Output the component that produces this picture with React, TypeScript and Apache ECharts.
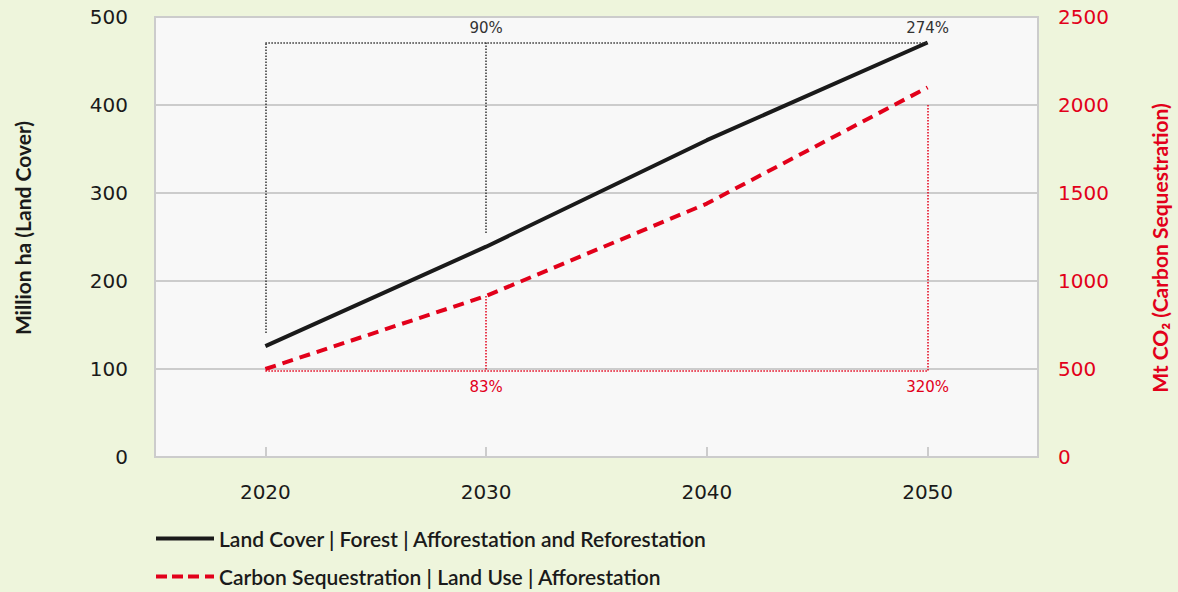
import React, { useEffect, useRef } from "react";
import * as echarts from "echarts";

const categories = ["2020", "2030", "2040", "2050"];
const landCover = [126, 239, 360, 471];
const carbonSeq = [500, 915, 1440, 2100];
const leftTicks = [0, 100, 200, 300, 400, 500];
const rightTicks = [0, 500, 1000, 1500, 2000, 2500];

const landName = "Land Cover | Forest | Afforestation and Reforestation";
const carbonName = "Carbon Sequestration | Land Use | Afforestation";

const BLACK = "#1a1a1a";
const RED = "#e2001a";
const TICK_FONT = "DejaVu Sans";
const TEXT_FONT = "Lato";

const SOLID_ICON = "path://M0,0H58V4H0Z";
const DASH_ICON = "path://M0,0H11V4H0Z M16,0H27V4H16Z M32,0H43V4H32Z M49,0H58V4H49Z";

const pct = (v: number, base: number) => Math.round((v / base - 1) * 100) + "%";

export default function App() {
  const ref = useRef<HTMLDivElement>(null);
  useEffect(() => {
    document.body.style.margin = "0";
    const chart = echarts.init(ref.current!, undefined, { renderer: "svg" });
    const landTop = landCover[landCover.length - 1];
    const carbonBase = carbonSeq[0] - 11;
    const legendText = { fontFamily: TEXT_FONT, fontSize: 21, fontWeight: 600, color: BLACK };
    const option: any = {
      animation: false,
      backgroundColor: "#eef5dc",
      grid: {
        left: 155,
        right: 140,
        top: 17,
        bottom: 135,
        show: true,
        backgroundColor: "#f8f8f8",
        borderColor: "#cccccc",
        borderWidth: 2,
      },
      legend: [
        {
          left: 151,
          top: 523,
          itemWidth: 58,
          itemHeight: 4,
          itemGap: 10,
          textStyle: legendText,
          data: [{ name: landName, icon: SOLID_ICON }],
        },
        {
          left: 151,
          top: 561,
          itemWidth: 58,
          itemHeight: 4,
          itemGap: 10,
          textStyle: legendText,
          data: [{ name: carbonName, icon: DASH_ICON }],
        },
      ],
      xAxis: {
        type: "category",
        data: categories,
        boundaryGap: true,
        axisLine: { show: true, lineStyle: { color: "#cccccc", width: 2 } },
        axisTick: { show: true, inside: true, alignWithLabel: true, length: 10, lineStyle: { color: "#cccccc", width: 2 } },
        axisLabel: { margin: 25, fontFamily: TICK_FONT, fontSize: 20, color: BLACK },
        splitLine: { show: false },
      },
      yAxis: [
        {
          type: "value",
          min: leftTicks[0],
          max: leftTicks[leftTicks.length - 1],
          interval: 100,
          name: "Million ha (Land Cover)",
          nameLocation: "middle",
          nameRotate: 90,
          nameGap: 122,
          nameTextStyle: { fontFamily: TEXT_FONT, fontSize: 21, fontWeight: 700, color: BLACK, padding: [0, 0, 0, 18] },
          axisLine: { show: false },
          axisTick: { show: false },
          axisLabel: { margin: 27, fontFamily: TICK_FONT, fontSize: 20, color: BLACK, formatter: (v: number) => String(v) },
          splitLine: { show: true, lineStyle: { color: "#cccccc", width: 2 } },
        },
        {
          type: "value",
          min: rightTicks[0],
          max: rightTicks[rightTicks.length - 1],
          interval: 500,
          name: "Mt CO₂ (Carbon Sequestration)",
          nameLocation: "middle",
          nameRotate: 90,
          nameGap: 111,
          nameTextStyle: { fontFamily: TEXT_FONT, fontSize: 21, fontWeight: 700, color: RED, padding: [0, 22, 0, 0] },
          axisLine: { show: false },
          axisTick: { show: false },
          axisLabel: { margin: 20, fontFamily: TICK_FONT, fontSize: 20, color: RED, formatter: (v: number) => String(v) },
          splitLine: { show: false },
        },
      ],
      series: [
        {
          name: landName,
          type: "line",
          data: landCover,
          yAxisIndex: 0,
          symbol: "none",
          lineStyle: { color: BLACK, width: 4 },
          itemStyle: { color: BLACK },
          z: 3,
          markLine: {
            silent: true,
            symbol: "none",
            label: { show: false },
            lineStyle: { color: "#333333", width: 1.5, type: "dotted" },
            data: [
              [{ coord: [categories[0], landCover[0] + 15] }, { coord: [categories[0], landTop] }],
              [{ coord: [categories[0], landTop] }, { coord: [categories[3], landTop] }],
              [{ coord: [categories[1], landTop] }, { coord: [categories[1], landCover[1] + 15] }],
            ],
          },
          markPoint: {
            silent: true,
            symbol: "circle",
            symbolSize: 1,
            itemStyle: { color: "rgba(0,0,0,0)" },
            label: { show: true, position: "top", distance: 7, fontFamily: TICK_FONT, fontSize: 15, color: "#333333" },
            data: [
              { coord: [categories[1], landTop], value: pct(landCover[1], landCover[0]) },
              { coord: [categories[3], landTop], value: pct(landCover[3], landCover[0]) },
            ],
          },
        },
        {
          name: carbonName,
          type: "line",
          data: carbonSeq,
          yAxisIndex: 1,
          symbol: "none",
          lineStyle: { color: RED, width: 4, type: [11, 7] },
          itemStyle: { color: RED },
          z: 3,
          markLine: {
            silent: true,
            symbol: "none",
            label: { show: false },
            lineStyle: { color: RED, width: 1.5, type: "dotted" },
            data: [
              [{ coord: [categories[0], carbonBase] }, { coord: [categories[3], carbonBase] }],
              [{ coord: [categories[1], carbonSeq[1]] }, { coord: [categories[1], carbonBase] }],
              [{ coord: [categories[3], carbonSeq[3] - 100] }, { coord: [categories[3], carbonBase] }],
            ],
          },
          markPoint: {
            silent: true,
            symbol: "circle",
            symbolSize: 1,
            itemStyle: { color: "rgba(0,0,0,0)" },
            label: { show: true, position: "bottom", distance: 8, fontFamily: TICK_FONT, fontSize: 15, color: RED },
            data: [
              { coord: [categories[1], carbonBase], value: pct(carbonSeq[1], carbonSeq[0]) },
              { coord: [categories[3], carbonBase], value: pct(carbonSeq[3], carbonSeq[0]) },
            ],
          },
        },
      ],
    };
    chart.setOption(option);
    return () => chart.dispose();
  }, []);
  return <div ref={ref} style={{ width: 1178, height: 592 }} />;
}
